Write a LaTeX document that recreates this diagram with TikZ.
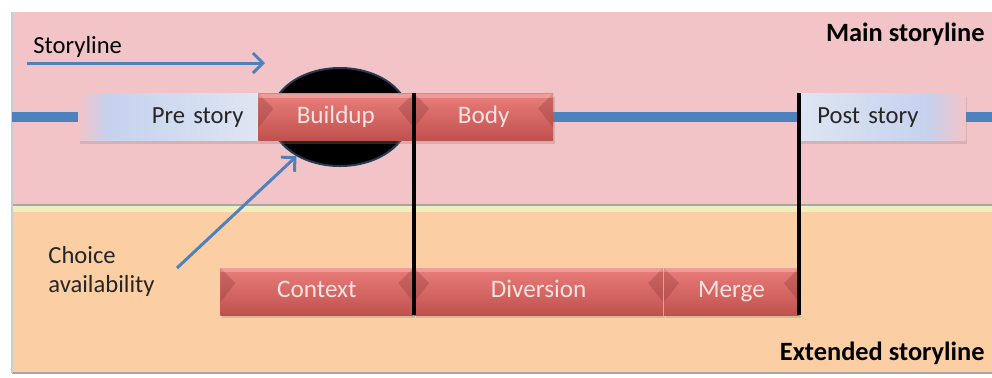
\documentclass[tikz,border=0pt]{standalone}
\usepackage{fontspec}
\setmainfont{Carlito}
\definecolor{mainpink}{RGB}{243,196,199}
\definecolor{extorange}{RGB}{251,206,163}
\definecolor{seamyellow}{RGB}{240,238,190}
\definecolor{lineblue}{RGB}{79,129,189}
\definecolor{redtop}{RGB}{234,126,123}
\definecolor{redbot}{RGB}{192,80,77}
\definecolor{redtext}{RGB}{252,226,224}
\definecolor{paleblue}{RGB}{222,230,242}
\definecolor{midblue}{RGB}{198,209,238}
\usepackage{tikz}
\usetikzlibrary{shapes, arrows.meta, positioning, calc, shadows}
\pgfdeclarehorizontalshading{prefade}{100bp}{color(0bp)=(mainpink); color(25bp)=(mainpink); color(33bp)=(midblue); color(75bp)=(paleblue); color(100bp)=(paleblue)}
\pgfdeclarehorizontalshading{postfade}{100bp}{color(0bp)=(paleblue); color(25bp)=(paleblue); color(64bp)=(midblue); color(75bp)=(mainpink); color(100bp)=(mainpink)}

\begin{document}
\begin{tikzpicture}[x=0.5pt, y=-0.5pt,
    font=\fontsize{12.3pt}{14.5pt}\selectfont,
    redbox/.style={minimum height=23.5pt, inner sep=0pt, text=redtext,
      text height=8.5pt, text depth=2.5pt,
      font=\fontsize{12.6pt}{14.5pt}\selectfont,
      top color=redtop, bottom color=redbot,
      drop shadow={opacity=0.3, shadow xshift=1pt, shadow yshift=-1.5pt},
      path picture={
        \fill[redbot!75!black, opacity=0.35] (path picture bounding box.north west) -- +(7.5pt,-7.5pt) -- +(0pt,-17pt) -- cycle;
        \fill[redbot!75!black, opacity=0.35] (path picture bounding box.north east) -- +(-7.5pt,-7.5pt) -- +(0pt,-17pt) -- cycle;
        \fill[white, opacity=0.25] (path picture bounding box.north west) rectangle ([yshift=-2pt]path picture bounding box.north east);
      }},
    storybox/.style={minimum height=23.5pt, inner ysep=0pt, text=black!85,
      text height=8.5pt, text depth=2.5pt,
      drop shadow={opacity=0.25, shadow xshift=1pt, shadow yshift=-1.5pt}},
    panellabel/.style={font=\fontsize{13.2pt}{15pt}\selectfont\bfseries, inner sep=0pt, anchor=east},
    cutline/.style={line width=2pt, black},
    bluearrow/.style={lineblue, line width=1.5pt, -{Straight Barb[length=5pt, width=10pt]}},
  ]
  \useasboundingbox (0,0) rectangle (992,377);

  % panels
  \fill[mainpink] (12,12) rectangle (992,205);
  \fill[seamyellow] (12,205) rectangle (992,212);
  \fill[extorange] (12,212) rectangle (992,373);
  \draw[black!35, line width=1pt] (12,205) -- (992,205) (12,373) -- (992,373);
  \draw[black!20, line width=1pt] (12,12) -- (12,373);

  \node[panellabel] (mainlbl) at (985,34) {Main storyline};
  \node[panellabel] (extlbl) at (985,353) {Extended storyline};

  % storyline
  \coordinate (lineL) at (12,117);
  \coordinate (lineR) at (992,117);
  \draw[lineblue, line width=5pt] (lineL) -- (lineR);

  \node[ellipse, fill=black, draw=lineblue!45!black, line width=1pt,
    minimum width=69pt, minimum height=49pt] (avail) at (340,117) {};

  \node[storybox, shading=prefade, minimum width=90pt, text width=75pt, inner xsep=7.5pt, align=right, anchor=west] (prestory) at (78,117) {Pre story};
  \node[redbox, minimum width=77.5pt, anchor=west] (buildup) at (258,117) {Buildup};
  \node[redbox, minimum width=69.5pt, right=0pt of buildup] (body) {Body};
  \node[storybox, shading=postfade, minimum width=84pt, text width=64pt, inner xsep=10pt, align=left, anchor=west] (poststory) at (797,117) {Post story};

  \node[redbox, minimum width=96.5pt, anchor=west] (context) at (220,291.5) {Context};
  \node[redbox, minimum width=124.5pt, right=0pt of context] (diversion) {Diversion};
  \node[redbox, minimum width=67.5pt, right=0pt of diversion] (merge) {Merge};

  \draw[cutline] (buildup.north east) -- (context.south east);
  \draw[cutline] (merge.south east) -- (merge.south east |- poststory.north);

  % labels and arrows
  \node[anchor=west, inner sep=0pt] (storylbl) at (33,47) {Storyline};
  \coordinate (storyS) at (27,63);
  \coordinate (storyE) at (265,63);
  \draw[bluearrow] (storyS) -- (storyE);

  \node[anchor=west, align=left, inner sep=0pt, text=black!85] (choice) at (48,271) {Choice\\availability};
  \coordinate (choiceS) at (177,268);
  \draw[bluearrow] (choiceS) -- (avail.222);
\end{tikzpicture}
\end{document}
